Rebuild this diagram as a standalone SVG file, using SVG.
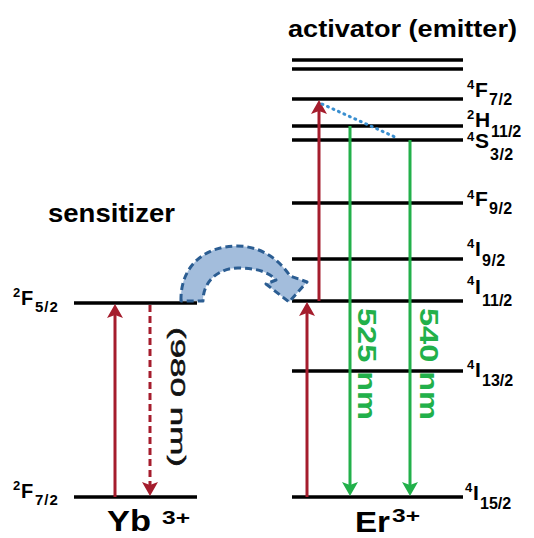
<svg xmlns="http://www.w3.org/2000/svg" width="534" height="538" viewBox="0 0 534 538">
<defs>
<style>
.lv{stroke:#000;stroke-width:3.5;fill:none}
.t{font-family:"Liberation Sans",Arial,sans-serif;font-weight:bold;fill:#000}
.red{stroke:#a51d2d;stroke-width:3;fill:none}
.grn{stroke:#22b04a;stroke-width:3;fill:none}
</style>
<marker id="arR" viewBox="0 0 14 16" refX="7" refY="8" markerWidth="14" markerHeight="16" markerUnits="userSpaceOnUse" orient="auto"><path d="M0,0 L14,8 L0,16 L3,8 z" fill="#a51d2d"/></marker>
<marker id="arG" viewBox="0 0 14 16" refX="7" refY="8" markerWidth="14" markerHeight="16" markerUnits="userSpaceOnUse" orient="auto"><path d="M0,0 L14,8 L0,16 L3,8 z" fill="#22b04a"/></marker>
</defs>
<rect width="534" height="538" fill="#fff"/>

<text class="t" x="288" y="37" font-size="23" textLength="229" lengthAdjust="spacingAndGlyphs">activator (emitter)</text>
<text class="t" x="48" y="222" font-size="26" textLength="127" lengthAdjust="spacingAndGlyphs">sensitizer</text>

<g id="yb">
<line class="lv" x1="74" y1="303" x2="197" y2="303"/>
<line class="lv" x1="74" y1="497" x2="197" y2="497"/>
<text class="t"><tspan font-size="13" x="13" y="297">2</tspan><tspan font-size="20" x="21" y="305">F</tspan><tspan font-size="15" x="35" y="312" letter-spacing="1">5/2</tspan></text>
<text class="t"><tspan font-size="13" x="13" y="490">2</tspan><tspan font-size="20" x="21" y="498">F</tspan><tspan font-size="15" x="35" y="505" letter-spacing="1">7/2</tspan></text>
<text class="t" x="107" y="531" font-size="30" textLength="44" lengthAdjust="spacingAndGlyphs">Yb</text>
<text class="t" x="162" y="524" font-size="18" textLength="28" lengthAdjust="spacingAndGlyphs">3+</text>
</g>

<g id="er">
<line class="lv" x1="292" y1="60" x2="463" y2="60"/>
<line class="lv" x1="292" y1="69" x2="463" y2="69"/>
<line class="lv" x1="292" y1="99" x2="463" y2="99"/>
<line class="lv" x1="292" y1="126" x2="463" y2="126"/>
<line class="lv" x1="292" y1="140" x2="463" y2="140"/>
<line class="lv" x1="292" y1="203" x2="463" y2="203"/>
<line class="lv" x1="292" y1="259" x2="463" y2="259"/>
<line class="lv" x1="292" y1="301" x2="463" y2="301"/>
<line class="lv" x1="292" y1="371" x2="463" y2="371"/>
<line class="lv" x1="292" y1="497" x2="463" y2="497"/>
<text class="t"><tspan font-size="13" x="467" y="89">4</tspan><tspan font-size="21" x="475" y="97">F</tspan><tspan font-size="16" x="489" y="105" letter-spacing="0.5">7/2</tspan></text>
<text class="t"><tspan font-size="13" x="467" y="119">2</tspan><tspan font-size="21" x="475" y="127">H</tspan><tspan font-size="16" x="491" y="137">11/2</tspan></text>
<text class="t"><tspan font-size="13" x="467" y="141">4</tspan><tspan font-size="21" x="475" y="148">S</tspan><tspan font-size="16" x="490" y="160" letter-spacing="0.5">3/2</tspan></text>
<text class="t"><tspan font-size="13" x="467" y="199">4</tspan><tspan font-size="21" x="475" y="206">F</tspan><tspan font-size="16" x="489" y="214" letter-spacing="0.5">9/2</tspan></text>
<text class="t"><tspan font-size="13" x="467" y="248">4</tspan><tspan font-size="21" x="475" y="256">I</tspan><tspan font-size="16" x="482" y="266" letter-spacing="0.5">9/2</tspan></text>
<text class="t"><tspan font-size="13" x="467" y="285">4</tspan><tspan font-size="21" x="475" y="294">I</tspan><tspan font-size="16" x="482" y="306">11/2</tspan></text>
<text class="t"><tspan font-size="13" x="467" y="369">4</tspan><tspan font-size="21" x="475" y="377">I</tspan><tspan font-size="16" x="482" y="386">13/2</tspan></text>
<text class="t"><tspan font-size="13" x="465" y="492">4</tspan><tspan font-size="21" x="473" y="500">I</tspan><tspan font-size="16" x="480" y="509">15/2</tspan></text>
<text class="t" x="355" y="532" font-size="30" textLength="35" lengthAdjust="spacingAndGlyphs">Er</text>
<text class="t" x="392" y="522" font-size="18" textLength="28" lengthAdjust="spacingAndGlyphs">3+</text>
</g>

<g id="connectors">
<path class="red" d="M115,497 L115,311" marker-end="url(#arR)"/>
<path class="red" d="M150,305 L150,489" stroke-dasharray="7,4" marker-end="url(#arR)"/>
<path class="red" d="M307,497 L307,309" marker-end="url(#arR)"/>
<path class="red" d="M319,301 L319,107" marker-end="url(#arR)"/>
<path class="grn" d="M350,126 L350,489" marker-end="url(#arG)"/>
<path class="grn" d="M410,140 L410,489" marker-end="url(#arG)"/>
<path d="M322,104 L395,137" stroke="#3a8fd0" stroke-width="3" stroke-dasharray="1,5" stroke-linecap="round" fill="none"/>
<path d="M181,301 C180,266 205,246 237,246 C263,246 281,262 290,276 L307,282 L289,302 L266,284 L276,280 C268,271 254,268 238,268 C220,268 203,280 203,301 Z" fill="#a3bddc" stroke="#2b5d92" stroke-width="3" stroke-dasharray="7,4" stroke-linejoin="round"/>
</g>

<text transform="translate(171,327) rotate(90)" font-family="Liberation Sans, Arial, sans-serif" font-size="21" fill="#111" stroke="#111" stroke-width="0.5" textLength="140" lengthAdjust="spacingAndGlyphs">(980 nm)</text>
<text class="t" transform="translate(358,308) rotate(90)" font-size="26" style="fill:#22b04a" textLength="112" lengthAdjust="spacingAndGlyphs">525 nm</text>
<text class="t" transform="translate(420,308) rotate(90)" font-size="26" style="fill:#22b04a" textLength="112" lengthAdjust="spacingAndGlyphs">540 nm</text>
</svg>
